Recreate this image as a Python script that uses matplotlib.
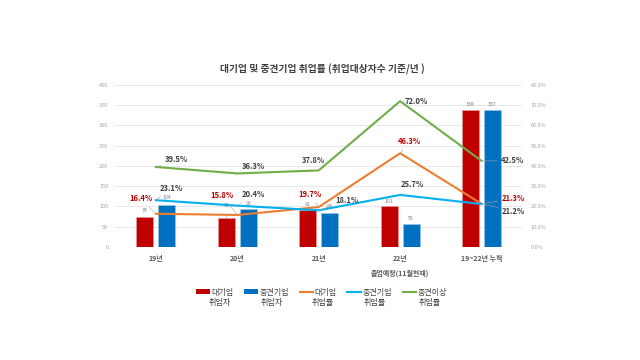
import matplotlib
matplotlib.use("Agg")
import matplotlib.pyplot as plt
from matplotlib.patches import Patch
from matplotlib.lines import Line2D
import numpy as np

plt.rcParams['font.family'] = ['Noto Sans CJK KR', 'DejaVu Sans']

categories = ['19년', '20년', '21년', '22년\n졸업예정(11월현재)', '19~22년 누적']
large_emp = [74, 72, 91, 101, 338]
mid_emp = [104, 93, 84, 56, 337]
large_rate = [16.4, 15.8, 19.7, 46.3, 21.3]
mid_rate = [23.1, 20.4, 18.1, 25.7, 21.2]
midup_rate = [39.5, 36.3, 37.8, 72.0, 42.5]

title = '대기업 및 중견기업 취업률 (취업대상자수 기준/년 )'
legend_top = ['대기업', '중견기업', '대기업', '중견기업', '중견이상']
legend_bottom = ['취업자', '취업자', '취업률', '취업률', '취업률']

C_RED = '#C00000'
C_BLUE = '#0070C0'
C_ORANGE = '#ED7D31'
C_CYAN = '#00B0F0'
C_GREEN = '#70AD47'
C_TXT = '#404040'
C_TICK = '#A6A6A6'

fig = plt.figure(figsize=(6.4, 3.6), dpi=100)
ax = fig.add_axes([0.18, 0.314, 0.636, 0.45])
ax2 = ax.twinx()

x = np.arange(len(categories))
w = 0.21
off = 0.135
ax.bar(x - off, large_emp, w, color=C_RED, edgecolor='#E8A0A0', linewidth=0.4, zorder=3)
ax.bar(x + off, mid_emp, w, color=C_BLUE, edgecolor='#A0C8E8', linewidth=0.4, zorder=3)

ax.set_xlim(-0.5, len(categories) - 0.5)
ax.set_ylim(0, 400)
ax.set_yticks(np.arange(0, 401, 50))
ax.grid(axis='y', color='#E4E4E4', linewidth=0.6, zorder=0)
ax.set_axisbelow(True)
for s in ax.spines.values():
    s.set_visible(False)
for s in ax2.spines.values():
    s.set_visible(False)
ax.tick_params(axis='both', length=0)
ax.tick_params(axis='y', labelsize=4, labelcolor=C_TICK, pad=5)
ax.set_xticks(x)
ax.set_xticklabels(categories, fontsize=5, fontweight='bold', color='#595959', linespacing=2.2)
ax.tick_params(axis='x', pad=6)
for lbl in ax.get_xticklabels():
    lbl.set_verticalalignment('top')

ax2.set_ylim(0, 80)
ax2.set_yticks(np.arange(0, 81, 10))
ax2.set_yticklabels([f'{v:.1f}%' for v in np.arange(0, 81, 10)])
ax2.tick_params(axis='y', length=0, labelsize=4, labelcolor=C_TICK, pad=6)

ax2.plot(x, large_rate, color=C_ORANGE, lw=1.5, zorder=4)
ax2.plot(x, mid_rate, color=C_CYAN, lw=1.5, zorder=4)
ax2.plot(x, midup_rate, color=C_GREEN, lw=1.5, zorder=4)

# bar value labels (offsets in pixels upward)
bar_lbl_red_dy = [6, 12, 6, 5, 6]
bar_lbl_blue_dy = [7, 6, 6, 6, 6]
for i, v in enumerate(large_emp):
    ax.annotate(str(v), (x[i] - off, v), xytext=(0, bar_lbl_red_dy[i] * 0.72),
                textcoords='offset points', ha='center', va='center',
                fontsize=3.8, color='#7F7F7F',
                arrowprops=dict(arrowstyle='-', color='#A6A6A6', lw=0.4,
                                shrinkA=2, shrinkB=0) if bar_lbl_red_dy[i] > 10 else None)
for i, v in enumerate(mid_emp):
    ax.annotate(str(v), (x[i] + off, v), xytext=(0, bar_lbl_blue_dy[i] * 0.72),
                textcoords='offset points', ha='center', va='center',
                fontsize=3.8, color='#7F7F7F')

# rate labels: offsets (dx, dy) in pixels, dy upward
green_off = [(21, 7), (16, 7), (-5, 10), (16, 0), (31, 0)]
orange_off = [(-15, 15), (-15, 19), (-9, 13), (9, 12), (32, 5)]
cyan_off = [(15, 12), (16, 11), (28, 10), (12, 10), (32, -7)]

def label_series(vals, offs, color):
    for i, v in enumerate(vals):
        dx, dy = offs[i]
        ax2.annotate(f'{v:.1f}%', (x[i], v), xytext=(dx * 0.72, dy * 0.72),
                     textcoords='offset points', ha='center', va='center',
                     fontsize=5.5, fontweight='bold', color=color, zorder=6,
                     arrowprops=dict(arrowstyle='-', color='#A6A6A6', lw=0.4,
                                     shrinkA=1, shrinkB=0))

label_series(midup_rate, green_off, C_TXT)
label_series(large_rate, orange_off, C_RED)
label_series(mid_rate, cyan_off, C_TXT)

fig.text(0.503, 1 - 69 / 360, title, ha='center', va='center',
         fontsize=7, fontweight='bold', color=C_TXT)

handles = [
    Patch(facecolor=C_RED),
    Patch(facecolor=C_BLUE),
    Line2D([], [], color=C_ORANGE, lw=1.5),
    Line2D([], [], color=C_CYAN, lw=1.5),
    Line2D([], [], color=C_GREEN, lw=1.5),
]
leg = fig.legend(handles, legend_top, loc='center', bbox_to_anchor=(0.503, 1 - 292 / 360),
                 ncol=5, frameon=False, prop=dict(size=5.8), handlelength=1.7,
                 handleheight=0.6, handletextpad=0.2, columnspacing=1.3)
for t in leg.get_texts():
    t.set_color(C_TXT)

fig.canvas.draw()
r = fig.canvas.get_renderer()
for t, s in zip(leg.get_texts(), legend_bottom):
    bb = t.get_window_extent(r)
    cx = (bb.x0 + bb.x1) / 2 - 3
    cy = (bb.y0 + bb.y1) / 2 - 11
    fig.text(cx / fig.bbox.width, cy / fig.bbox.height, s, ha='center', va='center',
             fontsize=5.8, color=C_TXT)

fig.savefig('out.png', dpi=100)
